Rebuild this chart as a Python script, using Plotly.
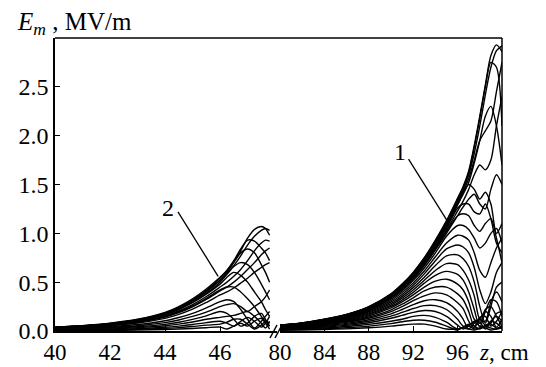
import plotly.graph_objects as go

# ---------------- data ----------------
ZL = [40, 41, 42, 43, 44, 44.5, 45, 45.5, 46, 46.25, 46.5, 46.75, 47, 47.25, 47.5, 47.65, 47.8]
left_curves = [
    [0.04, 0.055, 0.08, 0.12, 0.19, 0.25, 0.33, 0.43, 0.55, 0.62, 0.71, 0.82, 0.95, 1.04, 1.07, 1.05, 0.98],
    [0.038, 0.052, 0.076, 0.114, 0.18, 0.238, 0.314, 0.41, 0.52, 0.59, 0.67, 0.77, 0.88, 0.97, 1.03, 1.05, 1.03],
    [0.039, 0.053, 0.078, 0.116, 0.184, 0.243, 0.32, 0.417, 0.54, 0.62, 0.72, 0.84, 0.93, 0.92, 0.85, 0.8, 0.72],
    [0.037, 0.051, 0.074, 0.112, 0.177, 0.233, 0.307, 0.4, 0.52, 0.6, 0.7, 0.8, 0.84, 0.8, 0.68, 0.6, 0.5],
    [0.036, 0.05, 0.072, 0.108, 0.171, 0.225, 0.297, 0.387, 0.5, 0.58, 0.66, 0.7, 0.68, 0.6, 0.48, 0.4, 0.32],
    [0.033, 0.045, 0.066, 0.098, 0.156, 0.205, 0.27, 0.353, 0.45, 0.5, 0.56, 0.63, 0.72, 0.82, 0.9, 0.93, 0.92],
    [0.03, 0.041, 0.06, 0.09, 0.143, 0.188, 0.248, 0.323, 0.41, 0.45, 0.5, 0.56, 0.63, 0.7, 0.78, 0.82, 0.85],
    [0.035, 0.048, 0.07, 0.106, 0.167, 0.22, 0.29, 0.378, 0.48, 0.55, 0.6, 0.57, 0.5, 0.4, 0.3, 0.22, 0.15],
    [0.027, 0.037, 0.054, 0.082, 0.129, 0.17, 0.224, 0.292, 0.37, 0.4, 0.44, 0.49, 0.54, 0.6, 0.65, 0.68, 0.7],
    [0.031, 0.043, 0.062, 0.094, 0.148, 0.195, 0.257, 0.335, 0.42, 0.45, 0.45, 0.4, 0.33, 0.25, 0.15, 0.1, 0.05],
    [0.022, 0.03, 0.044, 0.066, 0.105, 0.138, 0.18, 0.237, 0.3, 0.32, 0.3, 0.22, 0.12, 0.03, 0.1, 0.15, 0.2],
    [0.018, 0.025, 0.036, 0.054, 0.086, 0.113, 0.149, 0.194, 0.25, 0.27, 0.28, 0.25, 0.2, 0.25, 0.3, 0.35, 0.42],
    [0.014, 0.02, 0.029, 0.043, 0.068, 0.09, 0.119, 0.155, 0.2, 0.18, 0.12, 0.05, 0.08, 0.15, 0.18, 0.12, 0.05],
    [0.011, 0.015, 0.022, 0.034, 0.053, 0.07, 0.092, 0.12, 0.14, 0.15, 0.16, 0.18, 0.2, 0.15, 0.08, 0.03, 0.1],
    [0.008, 0.011, 0.016, 0.024, 0.038, 0.05, 0.066, 0.086, 0.1, 0.08, 0.05, 0.1, 0.14, 0.1, 0.04, 0.08, 0.15],
    [0.006, 0.008, 0.011, 0.017, 0.027, 0.035, 0.046, 0.06, 0.07, 0.09, 0.12, 0.12, 0.07, 0.02, 0.06, 0.1, 0.08],
    [0.003, 0.004, 0.006, 0.01, 0.015, 0.02, 0.026, 0.034, 0.04, 0.02, 0.05, 0.08, 0.05, 0.1, 0.13, 0.08, 0.02],
]

ZR = [80, 82, 84, 86, 88, 90, 91, 92, 93, 94, 95, 96, 96.5, 97, 97.5, 98, 98.5, 99, 99.5, 100]
right_curves = [
    [0.06, 0.083, 0.12, 0.17, 0.25, 0.38, 0.48, 0.6, 0.75, 0.93, 1.13, 1.36, 1.48, 1.64, 1.9, 2.2, 2.52, 2.82, 2.93, 2.86],
    [0.059, 0.082, 0.118, 0.167, 0.245, 0.372, 0.47, 0.59, 0.735, 0.91, 1.1, 1.33, 1.45, 1.6, 1.82, 2.1, 2.42, 2.7, 2.87, 2.92],
    [0.06, 0.083, 0.12, 0.169, 0.248, 0.377, 0.476, 0.595, 0.745, 0.92, 1.12, 1.35, 1.47, 1.62, 1.88, 2.18, 2.5, 2.75, 2.7, 2.1],
    [0.057, 0.079, 0.114, 0.162, 0.238, 0.362, 0.457, 0.57, 0.71, 0.88, 1.07, 1.29, 1.4, 1.52, 1.72, 1.95, 2.2, 2.3, 2.1, 1.7],
    [0.058, 0.08, 0.116, 0.165, 0.242, 0.368, 0.463, 0.58, 0.725, 0.9, 1.09, 1.31, 1.43, 1.56, 1.75, 1.95, 2.05, 2.15, 2.45, 2.75],
    [0.055, 0.077, 0.11, 0.157, 0.23, 0.35, 0.44, 0.55, 0.69, 0.85, 1.03, 1.23, 1.33, 1.45, 1.6, 1.7, 1.65, 1.75, 2.1, 2.4],
    [0.053, 0.074, 0.107, 0.152, 0.223, 0.34, 0.428, 0.535, 0.67, 0.83, 1.0, 1.18, 1.27, 1.35, 1.4, 1.3, 1.25, 1.45, 1.6, 1.5],
    [0.058, 0.08, 0.115, 0.163, 0.24, 0.365, 0.46, 0.576, 0.72, 0.893, 1.085, 1.3, 1.42, 1.5, 1.45, 1.35, 1.42, 1.3, 1.0, 1.1],
    [0.056, 0.077, 0.112, 0.158, 0.233, 0.353, 0.446, 0.558, 0.7, 0.865, 1.05, 1.26, 1.3, 1.3, 1.22, 1.2, 1.3, 1.15, 0.9, 0.8],
    [0.054, 0.075, 0.108, 0.153, 0.225, 0.342, 0.432, 0.54, 0.675, 0.837, 1.02, 1.18, 1.2, 1.18, 1.08, 1.02, 1.1, 1.15, 0.95, 0.7],
    [0.052, 0.071, 0.103, 0.146, 0.215, 0.327, 0.413, 0.516, 0.645, 0.8, 0.97, 1.08, 1.08, 1.04, 0.95, 0.85, 0.9, 1.0, 1.05, 0.9],
    [0.049, 0.068, 0.098, 0.139, 0.205, 0.312, 0.394, 0.492, 0.615, 0.76, 0.9, 0.98, 0.97, 0.93, 0.8, 0.62, 0.55, 0.7, 0.85, 0.95],
    [0.047, 0.065, 0.094, 0.133, 0.195, 0.296, 0.374, 0.468, 0.585, 0.72, 0.84, 0.88, 0.86, 0.8, 0.65, 0.42, 0.28, 0.4, 0.6, 0.7],
    [0.044, 0.061, 0.089, 0.126, 0.185, 0.281, 0.355, 0.444, 0.55, 0.67, 0.77, 0.78, 0.74, 0.66, 0.5, 0.25, 0.08, 0.25, 0.45, 0.5],
    [0.042, 0.058, 0.084, 0.119, 0.175, 0.266, 0.336, 0.42, 0.52, 0.62, 0.69, 0.68, 0.62, 0.52, 0.36, 0.12, 0.1, 0.3, 0.4, 0.3],
    [0.04, 0.055, 0.079, 0.112, 0.165, 0.251, 0.317, 0.396, 0.49, 0.57, 0.61, 0.58, 0.52, 0.4, 0.22, 0.04, 0.2, 0.32, 0.3, 0.15],
    [0.037, 0.051, 0.074, 0.105, 0.155, 0.236, 0.298, 0.37, 0.45, 0.51, 0.53, 0.48, 0.42, 0.3, 0.12, 0.08, 0.22, 0.25, 0.15, 0.05],
    [0.034, 0.047, 0.068, 0.097, 0.143, 0.217, 0.274, 0.34, 0.41, 0.45, 0.45, 0.38, 0.32, 0.2, 0.05, 0.12, 0.2, 0.15, 0.04, 0.12],
    [0.031, 0.043, 0.062, 0.088, 0.13, 0.198, 0.25, 0.31, 0.36, 0.39, 0.37, 0.29, 0.23, 0.1, 0.03, 0.14, 0.15, 0.05, 0.1, 0.2],
    [0.028, 0.038, 0.055, 0.078, 0.115, 0.175, 0.22, 0.27, 0.31, 0.32, 0.29, 0.2, 0.12, 0.02, 0.08, 0.12, 0.06, 0.08, 0.18, 0.2],
    [0.024, 0.033, 0.048, 0.068, 0.1, 0.152, 0.19, 0.23, 0.26, 0.26, 0.22, 0.12, 0.05, 0.05, 0.1, 0.09, 0.02, 0.1, 0.15, 0.1],
    [0.02, 0.028, 0.041, 0.058, 0.085, 0.13, 0.16, 0.19, 0.21, 0.2, 0.15, 0.06, 0.02, 0.06, 0.09, 0.05, 0.04, 0.1, 0.08, 0.03],
    [0.016, 0.022, 0.032, 0.046, 0.068, 0.1, 0.12, 0.15, 0.16, 0.14, 0.09, 0.02, 0.04, 0.07, 0.05, 0.02, 0.06, 0.07, 0.03, 0.05],
    [0.012, 0.017, 0.024, 0.034, 0.05, 0.076, 0.095, 0.11, 0.11, 0.09, 0.05, 0.01, 0.04, 0.05, 0.02, 0.03, 0.05, 0.03, 0.02, 0.04],
    [0.008, 0.011, 0.016, 0.022, 0.033, 0.05, 0.062, 0.07, 0.07, 0.05, 0.02, 0.02, 0.03, 0.02, 0.01, 0.03, 0.03, 0.01, 0.02, 0.03],
]

left_ticks = [40, 42, 44, 46]
right_ticks = [80, 84, 88, 92, 96]
y_ticks = [0.0, 0.5, 1.0, 1.5, 2.0, 2.5]
y_ticktext = ["0.0", "0.5", "1.0", "1.5", "2.0", "2.5"]

left_range = [40, 48.07]
right_range = [80, 100]
y_range = [0, 3.0]

# curve labels: (text, label x, label y, pointer start x, y, pointer end x, y)
label2 = ("2", 44.11, 1.26, 44.47, 1.22, 45.93, 0.56)
label1 = ("1", 90.77, 1.83, 91.58, 1.76, 95.11, 1.12)

# ---------------- figure ----------------
FONT = "Liberation Serif, Times New Roman, serif"
fig = go.Figure()

for ys in left_curves:
    fig.add_trace(go.Scatter(x=ZL, y=ys, mode="lines", xaxis="x", yaxis="y",
                             line=dict(color="black", width=1.4, shape="spline", smoothing=0.8),
                             showlegend=False, hoverinfo="skip"))
for ys in right_curves:
    fig.add_trace(go.Scatter(x=ZR, y=ys, mode="lines", xaxis="x2", yaxis="y",
                             line=dict(color="black", width=1.4, shape="spline", smoothing=0.8),
                             showlegend=False, hoverinfo="skip"))

W, H = 546, 367
L, R, T, B = 55, 44, 38, 36
pw = W - L - R
ph = H - T - B
split_l = (277 - L) / pw
split_r = (280 - L) / pw

axis_common = dict(showline=True, linecolor="black", linewidth=1.5, ticks="inside",
                   ticklen=5, tickwidth=1.3, tickcolor="black", showgrid=False, zeroline=False,
                   automargin=False)

fig.update_layout(
    width=W, height=H, margin=dict(l=L, r=R, t=T, b=B),
    paper_bgcolor="white", plot_bgcolor="white",
    xaxis=dict(domain=[0, split_l], range=left_range, tickvals=left_ticks, anchor="y",
               tickfont=dict(family=FONT, size=23, color="black"), **axis_common),
    xaxis2=dict(domain=[split_r, 1], range=right_range, tickvals=right_ticks, anchor="y",
                tickfont=dict(family=FONT, size=23, color="black"), **axis_common),
    yaxis=dict(range=y_range, tickvals=y_ticks, ticktext=y_ticktext, anchor="x",
               tickfont=dict(family=FONT, size=24, color="black"), **axis_common),
)

# frame: top and right borders
fig.add_shape(type="line", xref="paper", yref="paper", x0=0, x1=1, y0=1, y1=1,
              line=dict(color="black", width=1.5))
fig.add_shape(type="line", xref="paper", yref="paper", x0=1, x1=1, y0=0, y1=1,
              line=dict(color="black", width=1.5))


def px2p(px, py):
    return (px - L) / pw, (H - B - py) / ph


# axis break marks (pixel positions relative to the bottom axis line)
base = H - B
for (ax0, dy0, ax1, dy1) in [(270, 7, 277, -6), (275, 7, 282, -6)]:
    x0, y0 = px2p(ax0, base + dy0)
    x1, y1 = px2p(ax1, base + dy1)
    fig.add_shape(type="line", xref="paper", yref="paper", x0=x0, y0=y0, x1=x1, y1=y1,
                  line=dict(color="black", width=1.5))

# curve labels with pointer lines
for (txt, tx, ty, lx0, ly0, lx1, ly1), xr in [(label2, "x"), (label1, "x2")]:
    fig.add_annotation(x=tx, y=ty, xref=xr, yref="y", text=txt, showarrow=False,
                       font=dict(family=FONT, size=24, color="black"))
    fig.add_shape(type="line", xref=xr, yref="y", x0=lx0, y0=ly0, x1=lx1, y1=ly1,
                  line=dict(color="black", width=1.3))

# axis titles
tx, ty = px2p(15, 24)
fig.add_annotation(x=tx, y=ty, xref="paper", yref="paper", xanchor="left", yanchor="middle",
                   text="<i>E</i><sub><i>m</i></sub> , MV/m", showarrow=False,
                   font=dict(family=FONT, size=25, color="black"))
tx, ty = px2p(477, 352)
fig.add_annotation(x=tx, y=ty, xref="paper", yref="paper", xanchor="left", yanchor="middle",
                   text="<i>z</i>, cm", showarrow=False,
                   font=dict(family=FONT, size=23, color="black"))

fig.write_html("out.html")
